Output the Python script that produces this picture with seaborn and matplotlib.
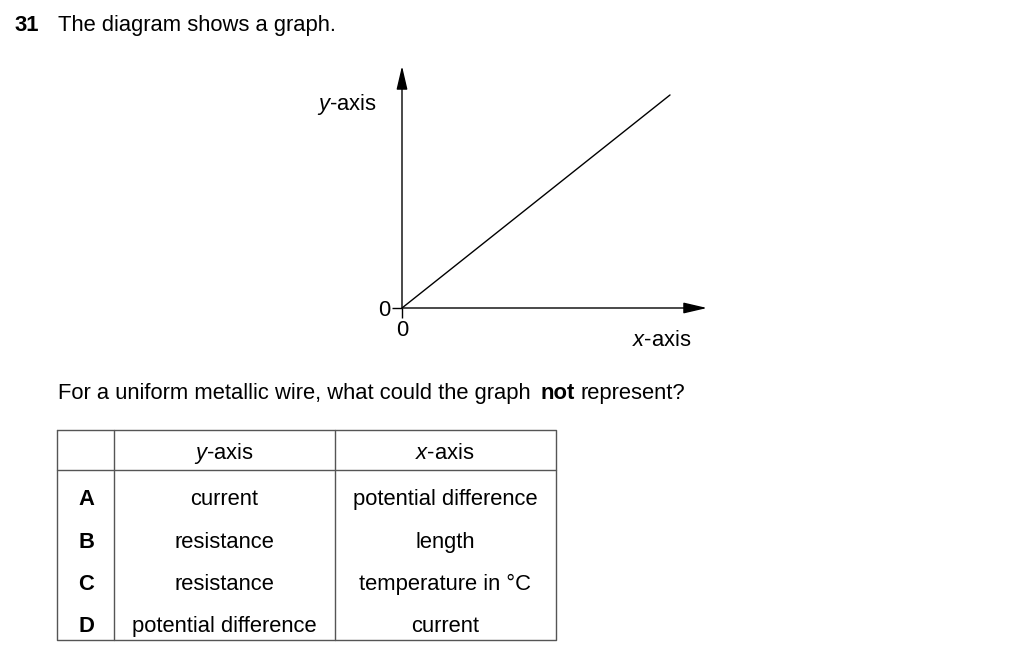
import matplotlib

matplotlib.use('Agg')
import matplotlib.pyplot as plt
import seaborn as sns
import pandas as pd

# Данные графика: прямая через начало координат
line_x = [0, 1]
line_y = [0, 1]
tick_vals = [0]
tick_labels = ['0']

# Таблица вариантов ответа
option_letters = ['A', 'B', 'C', 'D']
y_axis_items = ['current', 'resistance', 'resistance', 'potential difference']
x_axis_items = ['potential difference', 'length', 'temperature in °C', 'current']

sns.set_theme(style="white", rc={'text.color': 'black', 'xtick.color': 'black',
                                 'ytick.color': 'black', 'axes.labelcolor': 'black'})
plt.rcParams['font.family'] = ['Liberation Sans', 'DejaVu Sans']
plt.rcParams['mathtext.fontset'] = 'custom'
plt.rcParams['mathtext.rm'] = 'Liberation Sans'
plt.rcParams['mathtext.it'] = 'Liberation Sans:italic'

W, H = 1024, 658
FS = 15.8
fig = plt.figure(figsize=(W / 100, H / 100), dpi=100)
fig.patch.set_facecolor('white')

# Фон в пиксельных координатах
bg = fig.add_axes([0, 0, 1, 1])
bg.set_xlim(0, W)
bg.set_ylim(H, 0)
bg.axis('off')

# Заголовок вопроса
bg.text(15, 31, '31', fontsize=FS, fontweight='bold', va='baseline', ha='left')
bg.text(58, 31, 'The diagram shows a graph.', fontsize=FS, va='baseline', ha='left')

# Вопрос со словом "not" жирным
bg.text(58, 399, 'For a uniform metallic wire, what could the graph', fontsize=FS, va='baseline', ha='left')
bg.text(540, 399, 'not', fontsize=FS, fontweight='bold', va='baseline', ha='left')
bg.text(580, 399, 'represent?', fontsize=FS, va='baseline', ha='left')

# --- График ---
ox, oy = 402, 308
x_end, y_end = 707, 66
ax = fig.add_axes([ox / W, 1 - oy / H, (x_end - ox) / W, (oy - y_end) / H])
ax.patch.set_alpha(0)
df = pd.DataFrame({'x': line_x, 'y': line_y})
sns.lineplot(data=df, x='x', y='y', ax=ax, color='black', linewidth=1.0)
ax.set_xlim(0, 1.138)
ax.set_ylim(0, 1.136)
for s in ax.spines.values():
    s.set_visible(False)
ax.set_xticks(tick_vals)
ax.set_xticklabels(tick_labels)
ax.set_yticks(tick_vals)
ax.set_yticklabels(tick_labels)
ax.tick_params(axis='both', direction='out', length=7, width=1, color='black',
               labelcolor='black', labelsize=FS, pad=1.5, bottom=True, left=True)
ax.set_xlabel('')
ax.set_ylabel('')

arrow = dict(arrowstyle='-|>,head_length=1.2,head_width=0.28', color='black',
             lw=1.0, shrinkA=0, shrinkB=0)
ax.annotate('', xy=(1.138, 0), xytext=(0, 0), arrowprops=arrow, annotation_clip=False)
ax.annotate('', xy=(0, 1.136), xytext=(0, 0), arrowprops=arrow, annotation_clip=False)

bg.text(347, 110, r'$\it{y}$-axis', fontsize=FS, va='baseline', ha='center')
bg.text(662, 346, r'$\it{x}$-axis', fontsize=FS, va='baseline', ha='center')

# --- Таблица ---
tl, tr, tt, tb = 57, 556, 430, 640
col_lines = [114, 335]
hdr_bottom = 470
lc = '#555555'
bg.plot([tl, tr, tr, tl, tl], [tt, tt, tb, tb, tt], color=lc, lw=1)
for cx in col_lines:
    bg.plot([cx, cx], [tt, tb], color=lc, lw=1)
bg.plot([tl, tr], [hdr_bottom, hdr_bottom], color=lc, lw=1)

col_centers = [86, 224, 445]
bg.text(col_centers[1], 459, r'$\it{y}$-axis', fontsize=FS, va='baseline', ha='center')
bg.text(col_centers[2], 459, r'$\it{x}$-axis', fontsize=FS, va='baseline', ha='center')
row_base = [505, 548, 590, 632]
for ry, letter, yv, xv in zip(row_base, option_letters, y_axis_items, x_axis_items):
    bg.text(col_centers[0], ry, letter, fontsize=FS, fontweight='bold', va='baseline', ha='center')
    bg.text(col_centers[1], ry, yv, fontsize=FS, va='baseline', ha='center')
    bg.text(col_centers[2], ry, xv, fontsize=FS, va='baseline', ha='center')

plt.savefig('out.png', dpi=100)
plt.close()
